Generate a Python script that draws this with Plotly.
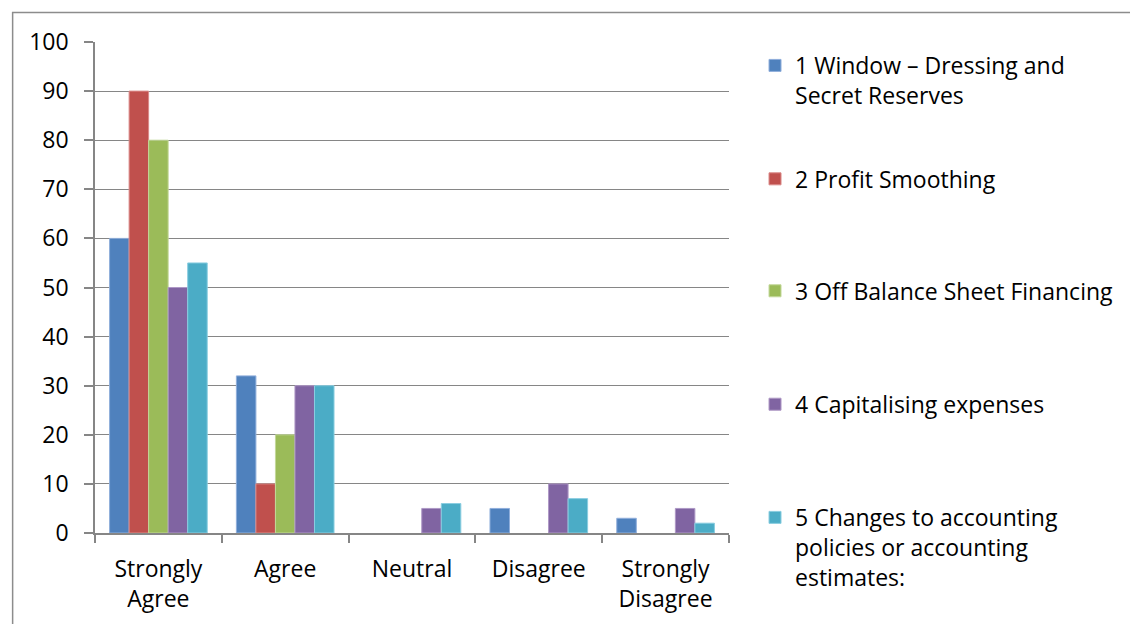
import plotly.graph_objects as go

# Survey responses (%) per creative-accounting practice
categories = ["Strongly<br>Agree", "Agree", "Neutral", "Disagree", "Strongly<br>Disagree"]
series_names = [
    "1 Window – Dressing and<br>Secret Reserves",
    "2 Profit Smoothing",
    "3 Off Balance Sheet Financing",
    "4 Capitalising expenses",
    "5 Changes to accounting<br>policies or accounting<br>estimates:",
]
window_dressing = [60, 32, 0, 5, 3]
profit_smoothing = [90, 10, 0, 0, 0]
off_balance = [80, 20, 0, 0, 0]
capitalising = [50, 30, 5, 10, 5]
policy_changes = [55, 30, 6, 7, 2]
y_ticks = [0, 10, 20, 30, 40, 50, 60, 70, 80, 90, 100]

series_values = [window_dressing, profit_smoothing, off_balance, capitalising, policy_changes]
colors = ["#4F81BD", "#C0504D", "#9BBB59", "#8064A2", "#4BACC6"]
edge_colors = ["#8FAEDB", "#DA8A88", "#C3D89A", "#AE98C6", "#8ACDE0"]

FONT = "Open Sans"
FSIZE = 23
GRID = "#868686"

# Each series gets its own legend box so the entries sit at fixed heights
legend_ids = ["legend", "legend2", "legend3", "legend4", "legend5"]
legend_tops = [0.996, 0.765, 0.537, 0.306, 0.0755]

fig = go.Figure()
for name, vals, col, edge, lid in zip(series_names, series_values, colors, edge_colors, legend_ids):
    fig.add_trace(go.Bar(
        x=categories, y=vals, name=name, legend=lid,
        marker=dict(
            color=col,
            # no outline on empty bars so they stay invisible
            line=dict(color=edge, width=[1 if v > 0 else 0 for v in vals]),
        ),
    ))

layout_legends = {}
for lid, top in zip(legend_ids, legend_tops):
    layout_legends[lid] = dict(
        x=1.0394, xanchor="left", y=top, yanchor="top",
        font=dict(family=FONT, size=FSIZE, color="#000000"),
        bgcolor="rgba(0,0,0,0)", valign="top",
        itemclick=False, itemdoubleclick=False,
    )

fig.update_layout(
    width=1130, height=624,
    margin=dict(l=95, r=400, t=42, b=91),
    paper_bgcolor="white", plot_bgcolor="white",
    barmode="group", bargap=0.23, bargroupgap=0,
    font=dict(family=FONT, size=FSIZE, color="#000000"),
    showlegend=True,
    **layout_legends,
)

fig.update_yaxes(
    range=[0, 100], tickvals=y_ticks,
    showgrid=True, gridcolor=GRID, gridwidth=1.3,
    showline=True, linecolor=GRID, linewidth=1.5,
    ticks="outside", ticklen=9, tickcolor=GRID, tickwidth=1.5,
    ticklabelstandoff=11,
    zeroline=False, automargin=False,
    tickfont=dict(family=FONT, size=FSIZE, color="#000000"),
)
fig.update_xaxes(
    showline=True, linecolor=GRID, linewidth=1.5,
    ticks="outside", ticklen=8, tickcolor=GRID, tickwidth=1.5,
    tickson="boundaries",
    ticklabelstandoff=15, automargin=False,
    tickfont=dict(family=FONT, size=FSIZE, color="#000000"),
)

# Outer chart frame
fig.add_shape(
    type="rect", xref="paper", yref="paper",
    x0=(12.5 - 95) / 635, x1=(1140 - 95) / 635,
    y0=(533 - 640) / 490, y1=(533 - 13.5) / 490,
    line=dict(color="#8C8C8C", width=1.5), fillcolor="rgba(0,0,0,0)",
    layer="below",
)

fig.write_html("out.html")
